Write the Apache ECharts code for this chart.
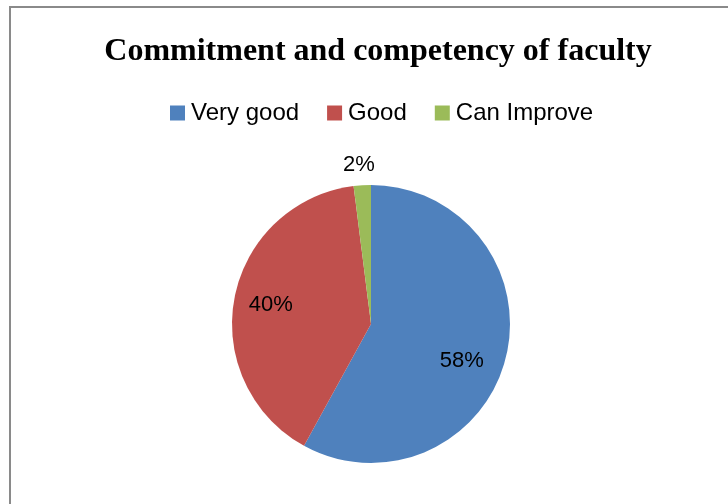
<!DOCTYPE html>
<html>
<head>
<meta charset="utf-8">
<script src="https://cdn.jsdelivr.net/npm/echarts@6/dist/echarts.min.js"></script>
<style>
  html, body { margin: 0; padding: 0; background: #fff; }
  #chart { width: 728px; height: 504px; }
</style>
</head>
<body>
<div id="chart"></div>
<script>
const categories = ["Very good", "Good", "Can Improve"];
const values = [58, 40, 2];
const colors = ["#4F81BD", "#C0504D", "#9BBB59"];

const dom = document.getElementById("chart");
const myChart = echarts.init(dom, null, { renderer: "canvas" });

const pieData = categories.map((name, i) => ({
  name: name,
  value: values[i],
  itemStyle: { color: colors[i] }
}));

// small slices get their label outside the pie
const isSmall = (v) => v < 5;

const labelText = {
  formatter: (p) => p.value + "%",
  fontFamily: "Liberation Sans",
  fontSize: 22,
  color: "#000"
};

let option = {
  backgroundColor: "#fff",
  animation: false,
  graphic: [
    {
      type: "rect",
      shape: { x: 10, y: 7, width: 740, height: 520 },
      style: { fill: "none", stroke: "#8a8a8a", lineWidth: 2 },
      silent: true
    }
  ],
  title: {
    text: "Commitment and competency of faculty",
    left: 373,
    textAlign: "center",
    top: 31,
    textStyle: {
      fontFamily: "Liberation Serif",
      fontWeight: "bold",
      fontSize: 32,
      color: "#000"
    }
  },
  legend: {
    top: 96,
    left: 165,
    icon: "rect",
    itemWidth: 15,
    itemHeight: 15,
    itemGap: 28,
    data: categories,
    textStyle: { fontFamily: "Liberation Sans", fontSize: 24, color: "#000", padding: [0, 0, 0, 1] }
  },
  series: [
    {
      type: "pie",
      center: [371, 324],
      radius: [0, 139],
      startAngle: 90,
      clockwise: true,
      silent: true,
      labelLayout: { dx: 18, dy: -14 },
      data: pieData.map((d) => ({
        ...d,
        label: isSmall(d.value)
          ? { show: true, position: "outside", ...labelText }
          : { show: false },
        labelLine: { show: false, length: 6, length2: 0 }
      }))
    },
    {
      // transparent overlay, only used to place the inside labels further out
      type: "pie",
      center: [371, 324],
      radius: [0, 198],
      startAngle: 90,
      clockwise: true,
      silent: true,
      itemStyle: { color: "rgba(0,0,0,0)" },
      // Excel sets the big slice label a bit lower than its mid angle
      labelLayout: (p) => (p.dataIndex === 0 ? { dx: -8, dy: 12 } : {}),
      data: pieData.map((d) => ({
        name: d.name,
        value: d.value,
        itemStyle: { color: "rgba(0,0,0,0)" },
        label: { show: !isSmall(d.value), position: "inside", ...labelText }
      }))
    }
  ]
};

myChart.setOption(option);
window.addEventListener("resize", myChart.resize);
</script>
</body>
</html>
